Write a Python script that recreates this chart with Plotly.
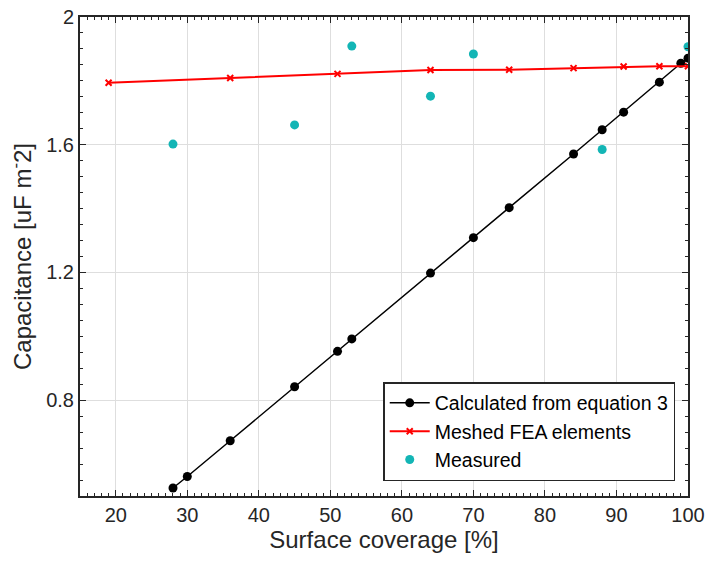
import plotly.graph_objects as go

# Surface coverage (%) and capacitance (uF m^-2) for each data set
calc_x = [28, 30, 36, 45, 51, 53, 64, 70, 75, 84, 88, 91, 96, 99, 100]
calc_y = [0.525, 0.561, 0.673, 0.842, 0.953, 0.992, 1.198, 1.309, 1.403,
          1.571, 1.647, 1.702, 1.796, 1.855, 1.871]

fea_x = [19, 36, 51, 64, 75, 84, 91, 96, 100]
fea_y = [1.794, 1.809, 1.822, 1.834, 1.835, 1.840, 1.845, 1.846, 1.846]

meas_x = [28, 45, 53, 64, 70, 88, 100]
meas_y = [1.602, 1.662, 1.909, 1.752, 1.884, 1.585, 1.907]

x_ticks = [20, 30, 40, 50, 60, 70, 80, 90, 100]
y_ticks = [0.8, 1.2, 1.6, 2.0]
y_tick_labels = ["0.8", "1.2", "1.6", "2"]

FONT = "Liberation Sans, Arial, sans-serif"
AX_COLOR = "#262626"

fig = go.Figure()
fig.add_trace(go.Scatter(
    x=calc_x, y=calc_y, mode="lines+markers",
    name="Calculated from equation 3",
    line=dict(color="black", width=1.5),
    marker=dict(color="black", size=9, symbol="circle"),
))
fig.add_trace(go.Scatter(
    x=fea_x, y=fea_y, mode="lines+markers",
    name="Meshed FEA elements",
    line=dict(color="#ff0000", width=2),
    marker=dict(color="#ff0000", size=6, symbol="x-thin",
                line=dict(color="#ff0000", width=2)),
))
fig.add_trace(go.Scatter(
    x=meas_x, y=meas_y, mode="markers",
    name="Measured",
    marker=dict(color="#13b5b5", size=9, symbol="circle"),
))

axis_common = dict(
    showline=True, linecolor=AX_COLOR, linewidth=2, mirror="ticks",
    ticks="inside", ticklen=6, tickwidth=1, tickcolor=AX_COLOR,
    showgrid=True, gridcolor="#dedede", gridwidth=1.2,
    zeroline=False, automargin=False,
    tickfont=dict(family=FONT, size=20, color=AX_COLOR),
)

fig.update_xaxes(
    range=[15, 100], tickvals=x_ticks,
    title=dict(text="Surface coverage [%]", font=dict(family=FONT, size=24, color=AX_COLOR),
               standoff=6),
    minor=dict(dtick=1, tick0=0, ticks="inside", ticklen=3, tickcolor=AX_COLOR, showgrid=False),
    **axis_common,
)
fig.update_yaxes(
    range=[0.5, 2.0], tickvals=y_ticks, ticktext=y_tick_labels,
    title=dict(text="Capacitance [uF m<sup>-</sup>2]", font=dict(family=FONT, size=24, color=AX_COLOR),
               standoff=8),
    minor=dict(dtick=0.05, tick0=0, ticks="inside", ticklen=3, tickcolor=AX_COLOR, showgrid=False),
    **axis_common,
)

fig.update_layout(
    width=709, height=563,
    margin=dict(l=80, r=21, t=17, b=67),
    paper_bgcolor="white", plot_bgcolor="white",
    font=dict(family=FONT, color=AX_COLOR),
    showlegend=True,
    legend=dict(
        x=0.979, y=0.031, xanchor="right", yanchor="bottom",
        bgcolor="white", bordercolor=AX_COLOR, borderwidth=1.5,
        font=dict(family=FONT, size=19.5, color="black"),
        tracegroupgap=0, itemwidth=40,
    ),
)

fig.write_html("out.html")
